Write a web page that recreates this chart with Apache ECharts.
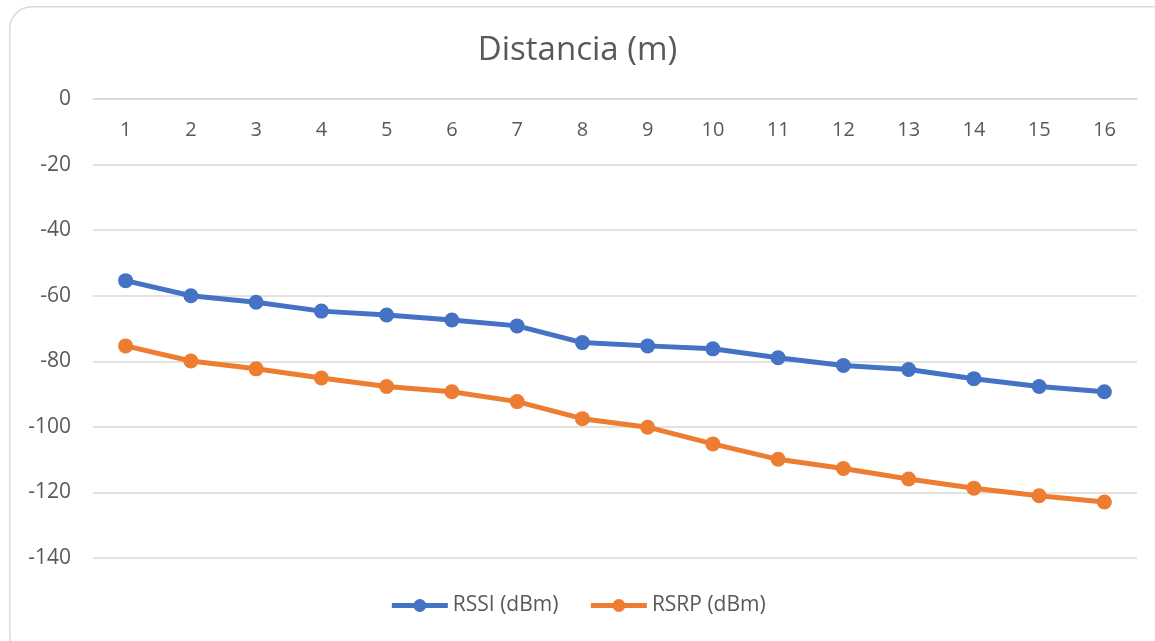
<!DOCTYPE html>
<html>
<head>
<meta charset="utf-8">
<script src="https://cdn.jsdelivr.net/npm/echarts@6/dist/echarts.min.js"></script>
<style>
html,body{margin:0;padding:0;background:#fff;}
#chart{width:1155px;height:641px;}
</style>
</head>
<body>
<div id="chart"></div>
<script>
const categories = ['1','2','3','4','5','6','7','8','9','10','11','12','13','14','15','16'];
const rssi = [-55.4,-60,-62,-64.7,-65.9,-67.4,-69.2,-74.3,-75.3,-76.2,-78.9,-81.3,-82.5,-85.3,-87.7,-89.3];
const rsrp = [-75.3,-79.9,-82.3,-85.1,-87.7,-89.3,-92.3,-97.5,-100.1,-105.2,-109.9,-112.7,-115.9,-118.7,-121,-122.9];
const titleText = 'Distancia (m)';
const seriesNames = ['RSSI (dBm)','RSRP (dBm)'];

const chart = echarts.init(document.getElementById('chart'), null, {renderer:'canvas'});
const font = '"Open Sans", "Noto Sans", sans-serif';
chart.setOption({
  backgroundColor:'#fff',
  graphic:[{
    type:'rect', left:9, top:6, z:-1,
    shape:{width:1170, height:650, r:22},
    style:{fill:'#fff', stroke:'#d9d9d9', lineWidth:1.5}
  }],
  title:{
    text:titleText, left:'center', top:29,
    textStyle:{fontFamily:font, fontSize:33, fontWeight:'normal', color:'#595959'}
  },
  legend:{
    bottom:20, left:'center', itemWidth:56, itemHeight:16, itemGap:30,
    lineStyle:{width:5},
    textStyle:{fontFamily:font, fontSize:21, color:'#595959'},
    data:seriesNames
  },
  grid:{left:93, right:18, top:99, bottom:83, containLabel:false},
  xAxis:{
    type:'category', data:categories, boundaryGap:true, position:'top',
    axisLine:{onZero:false, lineStyle:{color:'#d9d9d9', width:1.5}},
    axisTick:{show:false},
    axisLabel:{inside:true, fontFamily:font, fontSize:20, color:'#595959', margin:21}
  },
  yAxis:{
    type:'value', min:-140, max:0, interval:20,
    axisLine:{show:false}, axisTick:{show:false},
    axisLabel:{fontFamily:font, fontSize:21, color:'#595959', margin:22},
    splitLine:{lineStyle:{color:'#d9d9d9', width:1.5}}
  },
  series:[
    {name:seriesNames[0], type:'line', data:rssi, symbol:'circle', symbolSize:15,
     lineStyle:{width:5, color:'#4472C4'}, itemStyle:{color:'#4472C4'}},
    {name:seriesNames[1], type:'line', data:rsrp, symbol:'circle', symbolSize:15,
     lineStyle:{width:5, color:'#ED7D31'}, itemStyle:{color:'#ED7D31'}}
  ]
});
</script>
</body>
</html>
